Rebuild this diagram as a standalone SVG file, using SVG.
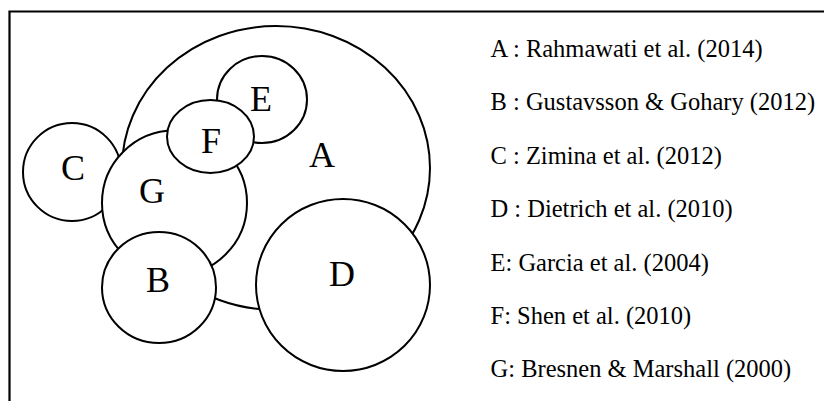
<svg xmlns="http://www.w3.org/2000/svg" width="824" height="401" viewBox="0 0 824 401">
<style>
.c{fill:#fff;stroke:#000;stroke-width:2}
.lbl{font-family:"Liberation Serif","Times New Roman",serif;font-size:36px;text-anchor:middle;fill:#000}
.leg{font-family:"Liberation Serif","Times New Roman",serif;font-size:24.5px;fill:#000}
</style>
<rect width="824" height="401" fill="#fff"/>
<path d="M9.5 401 V11.5 H824" fill="none" stroke="#000" stroke-width="2.2"/>
<g id="connectors"></g>
<g id="A"><ellipse class="c" cx="276" cy="168" rx="154" ry="142"/><text class="lbl" x="322" y="167">A</text></g>
<g id="C"><ellipse class="c" cx="72" cy="172" rx="49" ry="49"/><text class="lbl" x="73" y="180">C</text></g>
<g id="G"><ellipse class="c" cx="174.5" cy="203" rx="72.5" ry="72.5"/><text class="lbl" x="152" y="203">G</text></g>
<g id="B"><ellipse class="c" cx="159" cy="287.5" rx="57" ry="55.5"/><text class="lbl" x="158" y="292">B</text></g>
<g id="D"><ellipse class="c" cx="343" cy="285" rx="87" ry="86"/><text class="lbl" x="342" y="286">D</text></g>
<g id="E"><ellipse class="c" cx="262" cy="99.5" rx="45" ry="43.5"/><text class="lbl" x="261" y="111">E</text></g>
<g id="F"><ellipse class="c" cx="210.5" cy="136.5" rx="43.5" ry="36.5"/><text class="lbl" x="211" y="153">F</text></g>
<g id="legend">
<text class="leg" x="490.5" y="57">A : Rahmawati et al. (2014)</text>
<text class="leg" x="490.5" y="110">B : Gustavsson &amp; Gohary (2012)</text>
<text class="leg" x="490.5" y="163.5">C : Zimina et al. (2012)</text>
<text class="leg" x="490.5" y="217">D : Dietrich et al. (2010)</text>
<text class="leg" x="490.5" y="270.5">E: Garcia et al. (2004)</text>
<text class="leg" x="490.5" y="323.5">F: Shen et al. (2010)</text>
<text class="leg" x="490.5" y="377">G: Bresnen &amp; Marshall (2000)</text>
</g>
</svg>
